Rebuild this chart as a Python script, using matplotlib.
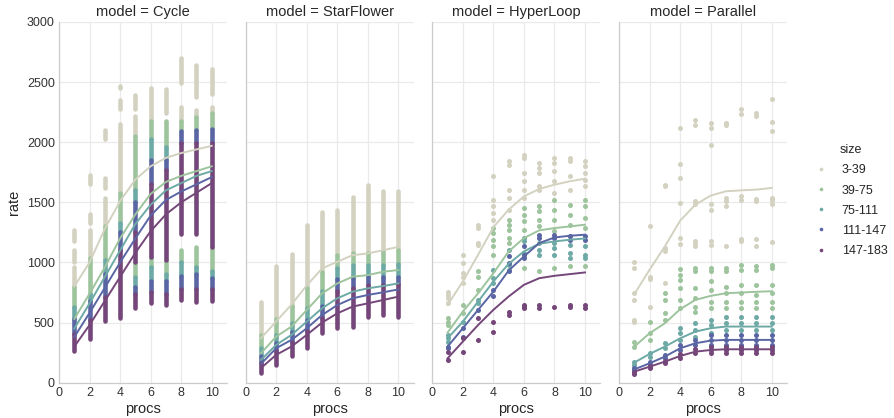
import matplotlib
matplotlib.use("Agg")
import matplotlib.pyplot as plt
from matplotlib.lines import Line2D

plt.rcParams['font.family'] = ['Liberation Sans', 'DejaVu Sans']

models = ["Cycle", "StarFlower", "HyperLoop", "Parallel"]
sizes = ["3-39", "39-75", "75-111", "111-147", "147-183"]
colors = ["#d3d2c0", "#9dc49c", "#6da9a5", "#5a65a4", "#744679"]
procs = [1, 2, 3, 4, 5, 6, 7, 8, 9, 10]

# mean rate per procs (one row per size bin)
cycle_mean = [
    [800, 1000, 1280, 1510, 1690, 1800, 1870, 1910, 1940, 1970],
    [530, 740, 960, 1200, 1400, 1570, 1670, 1720, 1760, 1800],
    [450, 660, 880, 1100, 1320, 1480, 1600, 1660, 1720, 1760],
    [380, 580, 790, 1000, 1200, 1390, 1520, 1590, 1650, 1710],
    [300, 480, 680, 880, 1080, 1260, 1400, 1500, 1580, 1660],
]
starflower_mean = [
    [370, 510, 650, 810, 950, 1006, 1061, 1075, 1102, 1130],
    [245, 384, 467, 605, 743, 826, 881, 895, 923, 937],
    [190, 315, 398, 508, 619, 702, 757, 785, 804, 826],
    [157, 287, 356, 453, 563, 646, 702, 730, 752, 776],
    [122, 232, 301, 398, 500, 577, 633, 660, 688, 716],
]
hyperloop_mean = [
    [647, 842, 1064, 1294, 1439, 1550, 1611, 1647, 1675, 1697],
    [417, 592, 744, 911, 1092, 1203, 1267, 1286, 1300, 1314],
    [369, 508, 675, 842, 989, 1092, 1156, 1175, 1189, 1200],
    [300, 453, 606, 758, 933, 1050, 1161, 1208, 1222, 1231],
    [203, 342, 480, 606, 717, 814, 869, 889, 903, 917],
]
parallel_mean = [
    [736, 939, 1133, 1347, 1481, 1556, 1592, 1600, 1606, 1620],
    [300, 411, 494, 611, 689, 722, 744, 750, 756, 761],
    [167, 239, 300, 369, 425, 453, 467, 467, 467, 467],
    [111, 161, 217, 286, 328, 350, 356, 356, 356, 356],
    [92, 133, 175, 222, 258, 272, 278, 278, 278, 278],
]

# Cycle: dense runs of points, (procs, low, high) per size bin
cycle_bands = [
    [(1, 1180, 1270), (1, 1000, 1100), (1, 800, 960), (2, 1650, 1730), (2, 1330, 1400),
     (2, 1040, 1270), (3, 2030, 2100), (3, 1620, 1700), (3, 1300, 1540), (4, 2455, 2470),
     (4, 2280, 2350), (4, 1580, 2150), (5, 2280, 2390), (5, 2050, 2220), (6, 2180, 2450),
     (7, 2240, 2440), (8, 2490, 2700), (8, 2180, 2290), (9, 2380, 2640), (9, 2210, 2270),
     (10, 2400, 2610), (10, 2240, 2290)],
    [(1, 630, 800), (2, 740, 1040), (3, 1020, 1300), (4, 1330, 1580), (5, 1600, 2050),
     (5, 880, 1000), (6, 2030, 2180), (6, 960, 1045), (7, 1960, 2180), (7, 906, 1017),
     (8, 2090, 2180), (8, 1000, 1100), (9, 2100, 2210), (9, 961, 1128), (10, 2114, 2240),
     (10, 933, 1128)],
    [(1, 530, 630), (2, 680, 740), (3, 900, 1020), (4, 1250, 1330), (5, 1500, 1600),
     (5, 800, 880), (6, 1850, 2030), (6, 850, 960), (7, 1850, 1960), (7, 850, 906),
     (8, 889, 1000), (9, 900, 961), (10, 870, 933)],
    [(1, 405, 530), (2, 520, 680), (3, 710, 900), (4, 1100, 1250), (5, 1250, 1500),
     (5, 740, 800), (6, 1655, 1850), (6, 756, 850), (7, 1770, 1850), (7, 739, 850),
     (8, 1990, 2090), (8, 778, 889), (9, 1990, 2100), (9, 778, 900), (10, 1990, 2114),
     (10, 778, 870)],
    [(1, 265, 405), (2, 360, 520), (3, 510, 710), (4, 540, 1100), (5, 1000, 1250),
     (5, 620, 740), (6, 1045, 1655), (6, 660, 756), (7, 1017, 1770), (7, 650, 739),
     (8, 1240, 1990), (8, 690, 778), (9, 1240, 1990), (9, 670, 778), (10, 1130, 1990),
     (10, 680, 778)],
]

# StarFlower: colour boundaries of each dense column, top to bottom
starflower_edges = [
    [674, 968, 1067, 1313, 1423, 1437, 1548, 1645, 1595, 1595],
    [400, 530, 640, 790, 920, 1060, 1080, 1080, 1090, 1100],
    [290, 400, 500, 620, 760, 950, 980, 980, 980, 990],
    [220, 330, 420, 520, 640, 860, 870, 880, 880, 880],
    [165, 260, 340, 430, 540, 760, 790, 810, 815, 820],
    [80, 149, 218, 287, 412, 453, 467, 550, 563, 550],
]

# HyperLoop: individual points, one list per procs for each size bin
hyperloop_points = [
    [[758, 730, 703, 661], [1064, 994, 911, 883, 828], [1314, 1286, 1161, 1147],
     [1717, 1522, 1467, 1411, 1356], [1842, 1814, 1606, 1536, 1439],
     [1897, 1869, 1744, 1675, 1606, 1536], [1828, 1786, 1744, 1633, 1606],
     [1869, 1828, 1758, 1675, 1578], [1869, 1842, 1717, 1606], [1842, 1800, 1744, 1689, 1633]],
    [[536, 508, 480], [647, 578], [925, 883, 772], [1286, 1244, 1189, 1133, 1064],
     [1356, 1314, 1272, 1203, 1161], [1453, 1397, 1342, 1272, 953],
     [1467, 1425, 1356, 1300, 925], [1522, 1439, 1356, 1258, 953],
     [1481, 1397, 1314, 1217, 967], [1522, 1467, 1369, 1286, 967]],
    [[397, 369, 342], [508], [689, 661], [939, 869, 828], [1106, 981, 939],
     [1203, 1175, 1078], [1161, 1106, 1064], [1161, 1119, 1064], [1147, 1078, 1036],
     [1133, 1064, 1036]],
    [[300, 286], [453, 383], [606], [772, 717], [1050, 994, 925], [1133, 1064, 1036],
     [1231, 1203], [1231, 1203], [1217, 1189], [1217, 1189]],
    [[258, 189], [369, 258], [536, 355], [508, 425], [592, 564], [647, 633, 619],
     [647, 619], [633], [647, 633], [647, 619]],
]

# Parallel: individual points, one list per procs for each size bin
parallel_points = [
    [[1008, 958, 744, 689, 522, 508], [1306, 883, 861, 633], [1647, 1633, 1119, 1092, 828],
     [2119, 1822, 1703, 1494, 1203, 1156], [2183, 2147, 1508, 1489, 1175, 1161, 1133],
     [2161, 2119, 1981, 1489, 1439, 1175, 1147], [2161, 2147, 1536, 1508, 1467, 1139],
     [2278, 2231, 1550, 1522, 1194, 1175], [2239, 2217, 1528, 1508, 1194, 1133],
     [2356, 2167, 2092, 1536, 1517, 1489, 1167]],
    [[342, 300], [508, 417, 356], [744, 689, 578, 522], [944, 897, 856, 786, 689, 619],
     [953, 925, 786, 703, 633, 592], [953, 925, 842, 772, 675, 619],
     [953, 925, 800, 744, 675, 619], [981, 939, 814, 744, 675, 619],
     [967, 939, 814, 731, 675, 619], [981, 953, 814, 744, 675, 619]],
    [[175, 147], [244, 217], [328, 286], [453, 411, 356], [500, 439, 383], [522, 481, 411],
     [550, 494, 439], [550, 494, 439], [550, 494, 439], [550, 494, 439]],
    [[119, 106], [175, 147], [231, 203], [314, 272], [356, 314], [397, 356, 314],
     [397, 356, 314], [397, 356, 314], [397, 356, 314], [397, 356, 314]],
    [[92, 72], [139, 119], [183, 161], [239, 203], [278, 244], [300, 272, 244],
     [300, 272, 244], [300, 272, 244], [300, 272, 244], [300, 272, 244]],
]

means = [cycle_mean, starflower_mean, hyperloop_mean, parallel_mean]

W, H = 894, 418
fig = plt.figure(figsize=(W / 100, H / 100), dpi=100)

lefts = [59, 245.7, 432.3, 619]
axes = []
for i, name in enumerate(models):
    ax = fig.add_axes([lefts[i] / W, 1 - 382.7 / H, 168 / W, (382.7 - 22) / H])
    axes.append(ax)

STRIPE = dict(lw=3.3, capstyle='round', zorder=2)
DOT = dict(s=13, linewidths=0, zorder=2)

# Cycle columns
for k, segs in enumerate(cycle_bands):
    for p, lo, hi in segs:
        axes[0].vlines(p, lo, hi, color=colors[k], **STRIPE)

# StarFlower columns
for k in range(len(sizes)):
    axes[1].vlines(procs, starflower_edges[k + 1], starflower_edges[k], color=colors[k], **STRIPE)

# HyperLoop and Parallel scattered points
for ax, pts in [(axes[2], hyperloop_points), (axes[3], parallel_points)]:
    for k, per_proc in enumerate(pts):
        xs = [p for p, vals in zip(procs, per_proc) for _ in vals]
        ys = [v for vals in per_proc for v in vals]
        ax.scatter(xs, ys, color=colors[k], **DOT)

for i, ax in enumerate(axes):
    for k in range(len(sizes)):
        ax.plot(procs, means[i][k], color=colors[k], lw=1.4, zorder=3)

    ax.set_xlim(0, 11)
    ax.set_ylim(0, 3000)
    ax.set_xticks([0, 2, 4, 6, 8, 10])
    ax.set_yticks([0, 500, 1000, 1500, 2000, 2500, 3000])
    ax.grid(True, color='#eaeaea', lw=0.9, zorder=0)
    ax.set_axisbelow(True)
    for side in ['top', 'right']:
        ax.spines[side].set_visible(False)
    for side in ['left', 'bottom']:
        ax.spines[side].set_color('#cccccc')
        ax.spines[side].set_linewidth(0.9)
    ax.tick_params(length=0, labelsize=9, labelcolor='#333333', pad=3)
    ax.set_title(f"model = {models[i]}", fontsize=10.5, color='#262626', pad=4)
    ax.set_xlabel("procs", fontsize=10.5, color='#262626', labelpad=2)
    if i == 0:
        ax.set_ylabel("rate", fontsize=10.5, color='#262626', labelpad=4)
    else:
        ax.tick_params(labelleft=False)

handles = [Line2D([], [], marker='o', ls='', markersize=2.6, markeredgewidth=0, color=c) for c in colors]
leg = fig.legend(handles, sizes, title="size", loc='center left', bbox_to_anchor=(803 / W, 0.52),
                 frameon=False, fontsize=9, title_fontsize=9, handletextpad=1.2,
                 labelspacing=0.65, handlelength=1.0)
for t in leg.get_texts():
    t.set_color('#262626')
leg.get_title().set_color('#262626')

fig.savefig("out.png", dpi=100)
